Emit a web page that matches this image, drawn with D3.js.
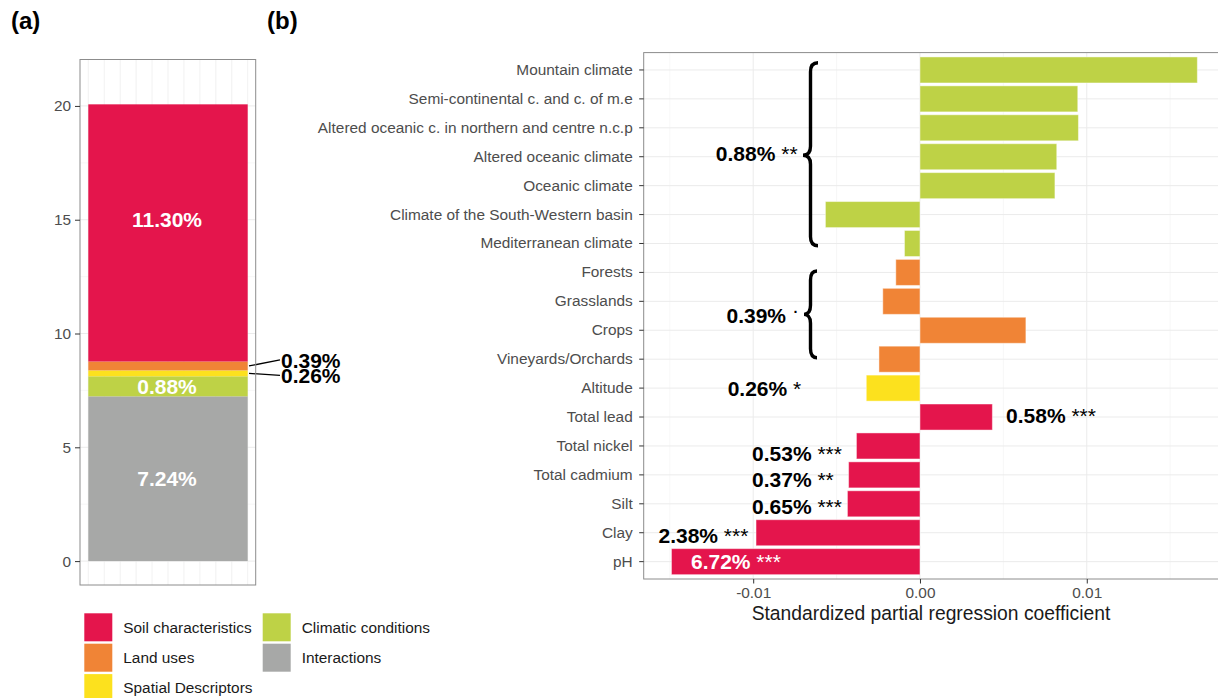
<!DOCTYPE html>
<html>
<head>
<meta charset="utf-8">
<script src="https://cdn.jsdelivr.net/npm/d3@7"></script>
<style>
  body { margin: 0; background: #fff; }
  svg { display: block; font-family: "Liberation Sans", Arial, Helvetica, sans-serif; }
</style>
</head>
<body>
<script>
// ---- data --------------------------------------------------------------
// panel (a): variance partition, stacked from bottom to top
var stackGroups = ["Interactions", "Climatic conditions", "Spatial Descriptors", "Land uses", "Soil characteristics"];
var stackValues = [7.24, 0.88, 0.26, 0.39, 11.30];
var stackLabels = ["7.24%", "0.88%", "0.26%", "0.39%", "11.30%"];
var yTicksA = [0, 5, 10, 15, 20];

// panel (b): standardized partial regression coefficients
var predictors = ["Mountain climate", "Semi-continental c. and c. of m.e",
  "Altered oceanic c. in northern and centre n.c.p", "Altered oceanic climate",
  "Oceanic climate", "Climate of the South-Western basin", "Mediterranean climate",
  "Forests", "Grasslands", "Crops", "Vineyards/Orchards", "Altitude",
  "Total lead", "Total nickel", "Total cadmium", "Silt", "Clay", "pH"];
var coefficients = [0.01663, 0.00946, 0.00950, 0.00820, 0.00809, -0.00567, -0.00093,
  -0.00145, -0.00223, 0.00635, -0.00246, -0.00322,
  0.00434, -0.00381, -0.00428, -0.00435, -0.00983, -0.01490];
var predictorGroups = ["Climatic conditions", "Climatic conditions", "Climatic conditions",
  "Climatic conditions", "Climatic conditions", "Climatic conditions", "Climatic conditions",
  "Land uses", "Land uses", "Land uses", "Land uses", "Spatial Descriptors",
  "Soil characteristics", "Soil characteristics", "Soil characteristics",
  "Soil characteristics", "Soil characteristics", "Soil characteristics"];
var xTicksB = [-0.01, 0, 0.01];

// annotations of panel (b): share of variance, significance, anchor (coef, row)
var annoPct = ["0.88%", "0.39%", "0.26%", "0.58%", "0.53%", "0.37%", "0.65%", "2.38%", "6.72%"];
var annoStars = ["**", "\u00b7", "*", "***", "***", "**", "***", "***", "***"];
var annoCoef = [-0.01224, -0.0116, -0.01153, 0.00516, -0.01007, -0.01007, -0.01007, -0.01568, -0.01373];
var annoRow = [2.9, 8.5, 11, 11.95, 13.25, 14.15, 15.1, 16.08, 17];

var legendOrder = ["Soil characteristics", "Land uses", "Spatial Descriptors", "Climatic conditions", "Interactions"];

// ---- setup -------------------------------------------------------------
var W = 1218, H = 698;
var color = d3.scaleOrdinal()
  .domain(["Soil characteristics", "Land uses", "Spatial Descriptors", "Climatic conditions", "Interactions"])
  .range(["#e4154c", "#f08436", "#fce11e", "#bed246", "#a7a8a7"]);

var svg = d3.select("body").append("svg").attr("width", W).attr("height", H);

var tickGrey = "#4d4d4d";
var borderGrey = "#8c8c8c";

// panel titles
svg.append("text").attr("x", 11).attr("y", 29).attr("font-size", 24).attr("font-weight", "bold").text("(a)");
svg.append("text").attr("x", 267).attr("y", 29).attr("font-size", 24).attr("font-weight", "bold").text("(b)");

// ---- panel (a) ---------------------------------------------------------
var aTop = 59.5, aBottom = 585, aLeft = 80, aRight = 255.7;
var yA = d3.scaleLinear().domain([-1.05, 22.04]).range([aBottom, aTop]);
var xA = d3.scaleLinear().domain([0, 10]).range([88.3, 247.7]);

var gA = svg.append("g");

gA.selectAll(".minorA").data([2.5, 7.5, 12.5, 17.5]).enter().append("line")
  .attr("x1", aLeft).attr("x2", aRight)
  .attr("y1", function(d) { return yA(d); }).attr("y2", function(d) { return yA(d); })
  .attr("stroke", "#f2f2f2").attr("stroke-width", 0.6);
gA.selectAll(".majorA").data(yTicksA).enter().append("line")
  .attr("x1", aLeft).attr("x2", aRight)
  .attr("y1", function(d) { return yA(d); }).attr("y2", function(d) { return yA(d); })
  .attr("stroke", "#ebebeb").attr("stroke-width", 1);
gA.selectAll(".vgridA").data(d3.range(0, 11)).enter().append("line")
  .attr("x1", function(d) { return xA(d); }).attr("x2", function(d) { return xA(d); })
  .attr("y1", aTop).attr("y2", aBottom)
  .attr("stroke", "#eeeeee").attr("stroke-width", 0.8);

var cum = d3.cumsum(stackValues);
var segs = stackValues.map(function(v, i) {
  return { group: stackGroups[i], label: stackLabels[i], y0: cum[i] - v, y1: cum[i] };
});

gA.selectAll(".seg").data(segs).enter().append("rect")
  .attr("x", xA(0)).attr("width", xA(10) - xA(0))
  .attr("y", function(d) { return yA(d.y1); })
  .attr("height", function(d) { return yA(d.y0) - yA(d.y1); })
  .attr("fill", function(d) { return color(d.group); });

// labels inside the big segments
segs.forEach(function(d, i) {
  var mid = (d.y0 + d.y1) / 2;
  if (d.y1 - d.y0 > 0.5) {
    var yv = d.group === "Soil characteristics" ? 15 : mid;
    gA.append("text")
      .attr("x", 167).attr("y", yA(yv)).attr("dy", "0.36em")
      .attr("text-anchor", "middle").attr("fill", "#fff")
      .attr("font-size", 21).attr("font-weight", "bold")
      .text(d.label);
  } else {
    // small segments get a leader line to the right
    var nudge = d.group === "Land uses" ? -6 : 2;
    var ty = yA(mid) + nudge;
    gA.append("line")
      .attr("x1", 249).attr("y1", yA(mid)).attr("x2", 280).attr("y2", ty)
      .attr("stroke", "#000").attr("stroke-width", 1.3);
    gA.append("text")
      .attr("x", 281).attr("y", ty).attr("dy", "0.36em")
      .attr("font-size", 21).attr("font-weight", "bold")
      .text(d.label);
  }
});

gA.append("rect").attr("x", aLeft).attr("y", aTop)
  .attr("width", aRight - aLeft).attr("height", aBottom - aTop)
  .attr("fill", "none").attr("stroke", borderGrey).attr("stroke-width", 1);

var axA = gA.append("g").attr("transform", "translate(" + aLeft + ",0)")
  .call(d3.axisLeft(yA).tickValues(yTicksA).tickSize(5).tickPadding(4));
axA.select(".domain").remove();
axA.selectAll(".tick line").attr("stroke", "#333");
axA.selectAll(".tick text").attr("font-size", 15.4).attr("fill", tickGrey).attr("font-family", null);

// ---- panel (b) ---------------------------------------------------------
var bTop = 52.6, bBottom = 579, bLeft = 643.7, bRight = 1225.2;
var xB = d3.scaleLinear().domain([-0.016565, 0.0183]).range([bLeft, bRight]);
var yB = d3.scaleBand().domain(predictors).range([bTop, bBottom])
  .paddingInner(0.1).paddingOuter(0.15);
var rowY = function(r) { return yB(predictors[0]) + yB.bandwidth() / 2 + r * yB.step(); };

var gB = svg.append("g");

gB.selectAll(".minorB").data([-0.015, -0.005, 0.005, 0.015]).enter().append("line")
  .attr("x1", function(d) { return xB(d); }).attr("x2", function(d) { return xB(d); })
  .attr("y1", bTop).attr("y2", bBottom)
  .attr("stroke", "#f2f2f2").attr("stroke-width", 0.6);
gB.selectAll(".majorBx").data(xTicksB).enter().append("line")
  .attr("x1", function(d) { return xB(d); }).attr("x2", function(d) { return xB(d); })
  .attr("y1", bTop).attr("y2", bBottom)
  .attr("stroke", "#ebebeb").attr("stroke-width", 1);
gB.selectAll(".majorBy").data(predictors).enter().append("line")
  .attr("x1", bLeft).attr("x2", bRight)
  .attr("y1", function(d) { return yB(d) + yB.bandwidth() / 2; })
  .attr("y2", function(d) { return yB(d) + yB.bandwidth() / 2; })
  .attr("stroke", "#ebebeb").attr("stroke-width", 1);

gB.selectAll(".bar").data(predictors).enter().append("rect")
  .attr("x", function(d, i) { return xB(Math.min(0, coefficients[i])); })
  .attr("width", function(d, i) { return Math.abs(xB(coefficients[i]) - xB(0)); })
  .attr("y", function(d) { return yB(d); })
  .attr("height", yB.bandwidth())
  .attr("fill", function(d, i) { return color(predictorGroups[i]); })
  .attr("stroke", "#fff").attr("stroke-opacity", 0.45).attr("stroke-width", 1);

// braces grouping the climate and land-use rows
function brace(xTip, yTop, yBot, yMid, w) {
  var xb = xTip + w * 0.5, xe = xTip + w, r = 9;
  return "M" + xe + "," + yTop +
    "Q" + xb + "," + yTop + " " + xb + "," + (yTop + r) +
    "L" + xb + "," + (yMid - r) +
    "Q" + xb + "," + yMid + " " + xTip + "," + yMid +
    "Q" + xb + "," + yMid + " " + xb + "," + (yMid + r) +
    "L" + xb + "," + (yBot - r) +
    "Q" + xb + "," + yBot + " " + xe + "," + yBot;
}
gB.append("path")
  .attr("d", brace(803, rowY(-0.25), rowY(6.08), rowY(2.95), 15))
  .attr("fill", "none").attr("stroke", "#000").attr("stroke-width", 3.4);
gB.append("path")
  .attr("d", brace(804, rowY(6.95), rowY(9.95), rowY(8.45), 13))
  .attr("fill", "none").attr("stroke", "#000").attr("stroke-width", 3.4);

annoPct.forEach(function(p, i) {
  var t = gB.append("text")
    .attr("x", xB(annoCoef[i])).attr("y", rowY(annoRow[i])).attr("dy", "0.36em")
    .attr("font-size", 21)
    .attr("fill", p === "6.72%" ? "#fff" : "#000");
  t.append("tspan").attr("font-weight", "bold").text(p);
  var s = t.append("tspan").attr("font-weight", "normal").text(" " + annoStars[i]);
  if (annoStars[i] === "\u00b7") s.attr("dy", -6);
});

gB.append("rect").attr("x", bLeft).attr("y", bTop)
  .attr("width", bRight - bLeft).attr("height", bBottom - bTop)
  .attr("fill", "none").attr("stroke", borderGrey).attr("stroke-width", 1);

var axBy = gB.append("g").attr("transform", "translate(" + bLeft + ",0)")
  .call(d3.axisLeft(yB).tickSize(4.5).tickPadding(6.5));
axBy.select(".domain").remove();
axBy.selectAll(".tick line").attr("stroke", "#333");
axBy.selectAll(".tick text").attr("font-size", 15.4).attr("fill", tickGrey).attr("font-family", null);

var axBx = gB.append("g").attr("transform", "translate(0," + bBottom + ")")
  .call(d3.axisBottom(xB).tickValues(xTicksB).tickSize(4.5).tickPadding(3.5)
    .tickFormat(function(d) { return d.toFixed(2); }));
axBx.select(".domain").remove();
axBx.selectAll(".tick line").attr("stroke", "#333");
axBx.selectAll(".tick text").attr("font-size", 15.4).attr("fill", tickGrey).attr("font-family", null);

svg.append("text").attr("x", 931).attr("y", 620).attr("text-anchor", "middle")
  .attr("font-size", 19.3).attr("fill", "#1a1a1a")
  .text("Standardized partial regression coefficient");

// ---- legend ------------------------------------------------------------
var legend = svg.append("g");
legendOrder.forEach(function(name, i) {
  var col = Math.floor(i / 3), row = i % 3;
  var lx = 84.3 + col * 178.4, ly = 613.3 + row * 30.4;
  legend.append("rect").attr("x", lx).attr("y", ly).attr("width", 28).attr("height", 28)
    .attr("fill", color(name));
  legend.append("text").attr("x", lx + 39).attr("y", ly + 14).attr("dy", "0.35em")
    .attr("font-size", 15.4).attr("fill", "#1a1a1a").text(name);
});
</script>
</body>
</html>
